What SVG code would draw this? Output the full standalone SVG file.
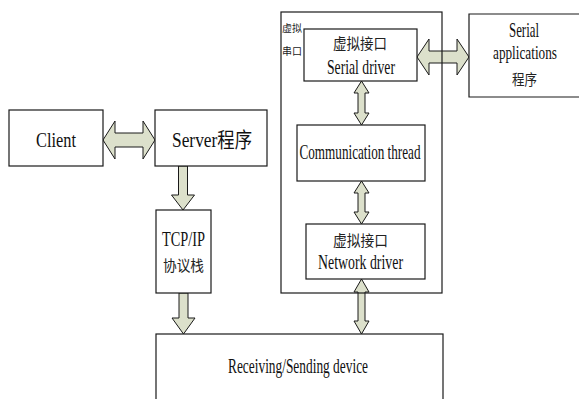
<svg xmlns="http://www.w3.org/2000/svg" width="579" height="399" viewBox="0 0 579 399">
  <style>
    .box { fill: #ffffff; stroke: #1a1a1a; stroke-width: 1.2; }
    .frame { fill: none; stroke: #1a1a1a; stroke-width: 1.2; }
    .arrow { fill: #dce0cb; stroke: #1a1a1a; stroke-width: 1; stroke-linejoin: miter; }
    .t { font-family: "Liberation Serif", "Noto Sans CJK SC", serif; font-size: 21px; fill: #111; text-anchor: middle; }
    .cjk { font-family: "Noto Sans CJK SC", "Liberation Serif", sans-serif; font-size: 15px; fill: #222; text-anchor: middle; }
    .small { font-family: "Noto Sans CJK SC", sans-serif; font-size: 10px; fill: #222; }
  </style>
  <rect width="579" height="399" fill="#ffffff"/>

  <!-- connectors -->
  <g id="connectors">
    <!-- Client <-> Server -->
    <polygon class="arrow" points="103,140 115,121 115,133 143,133 143,121 155,140 143,159 143,147 115,147 115,159"/>
    <!-- Server -> TCP/IP -->
    <polygon class="arrow" points="178.5,166 187.5,166 187.5,195 194.5,195 183,210 171.5,195 178.5,195"/>
    <!-- TCP/IP -> Receiving/Sending device -->
    <polygon class="arrow" points="179,293 188,293 188,318 195,318 183.5,334 172,318 179,318"/>
    <!-- Serial driver <-> Serial applications -->
    <polygon class="arrow" points="417,57 429,39 429,51 457,51 457,39 469,57 457,75 457,63 429,63 429,75"/>
    <!-- Serial driver <-> Communication thread -->
    <polygon class="arrow" points="361.5,81 369,93 365,93 365,113 369,113 361.5,125 354,113 358,113 358,93 354,93"/>
    <!-- Communication thread <-> Network driver -->
    <polygon class="arrow" points="361.5,181 369,193 365,193 365,212 369,212 361.5,224 354,212 358,212 358,193 354,193"/>
    <!-- Network driver <-> Receiving/Sending device -->
    <polygon class="arrow" points="361.5,279 369,292 365,292 365,321 369,321 361.5,334 354,321 358,321 358,292 354,292"/>
  </g>

  <g id="client">
    <rect class="box" x="9" y="110" width="94" height="56"/>
    <text class="t" x="56" y="147" textLength="40" lengthAdjust="spacingAndGlyphs">Client</text>
  </g>

  <g id="server">
    <rect class="box" x="155" y="110" width="112" height="56"/>
    <text class="t" x="212" y="147" textLength="80" lengthAdjust="spacingAndGlyphs">Server程序</text>
  </g>

  <g id="tcpip">
    <rect class="box" x="156" y="210" width="55" height="83"/>
    <text class="t" x="183.5" y="246" textLength="43" lengthAdjust="spacingAndGlyphs">TCP/IP</text>
    <text class="cjk" x="183.5" y="271" textLength="41" lengthAdjust="spacingAndGlyphs">协议栈</text>
  </g>

  <g id="receiving">
    <rect class="box" x="156" y="334" width="287" height="80"/>
    <text class="t" x="298" y="373" textLength="140" lengthAdjust="spacingAndGlyphs">Receiving/Sending device</text>
  </g>

  <g id="serial-apps">
    <path class="box" d="M580,14 H469 V97 H580"/>
    <text class="t" x="524" y="37" textLength="30" lengthAdjust="spacingAndGlyphs">Serial</text>
    <text class="t" x="525" y="59" style="font-size:18px" textLength="64" lengthAdjust="spacingAndGlyphs">applications</text>
    <text class="cjk" x="524.5" y="85" textLength="25" lengthAdjust="spacingAndGlyphs">程序</text>
  </g>

  <g id="virtual-serial-port">
    <rect class="frame" x="281" y="12" width="161" height="281"/>
    <text class="small" x="282" y="32">虚拟</text>
    <text class="small" x="282" y="55">串口</text>
  </g>

  <g id="serial-driver">
    <rect class="box" x="304" y="29" width="113" height="52"/>
    <text class="cjk" x="360" y="49" textLength="54" lengthAdjust="spacingAndGlyphs">虚拟接口</text>
    <text class="t" x="361" y="74" textLength="68" lengthAdjust="spacingAndGlyphs">Serial driver</text>
  </g>

  <g id="communication-thread">
    <rect class="box" x="297" y="125" width="128" height="56"/>
    <text class="t" x="360" y="159" textLength="121" lengthAdjust="spacingAndGlyphs">Communication thread</text>
  </g>

  <g id="network-driver">
    <rect class="box" x="306" y="224" width="119" height="55"/>
    <text class="cjk" x="360.5" y="246" textLength="55" lengthAdjust="spacingAndGlyphs">虚拟接口</text>
    <text class="t" x="360.5" y="269" textLength="85" lengthAdjust="spacingAndGlyphs">Network  driver</text>
  </g>
</svg>
